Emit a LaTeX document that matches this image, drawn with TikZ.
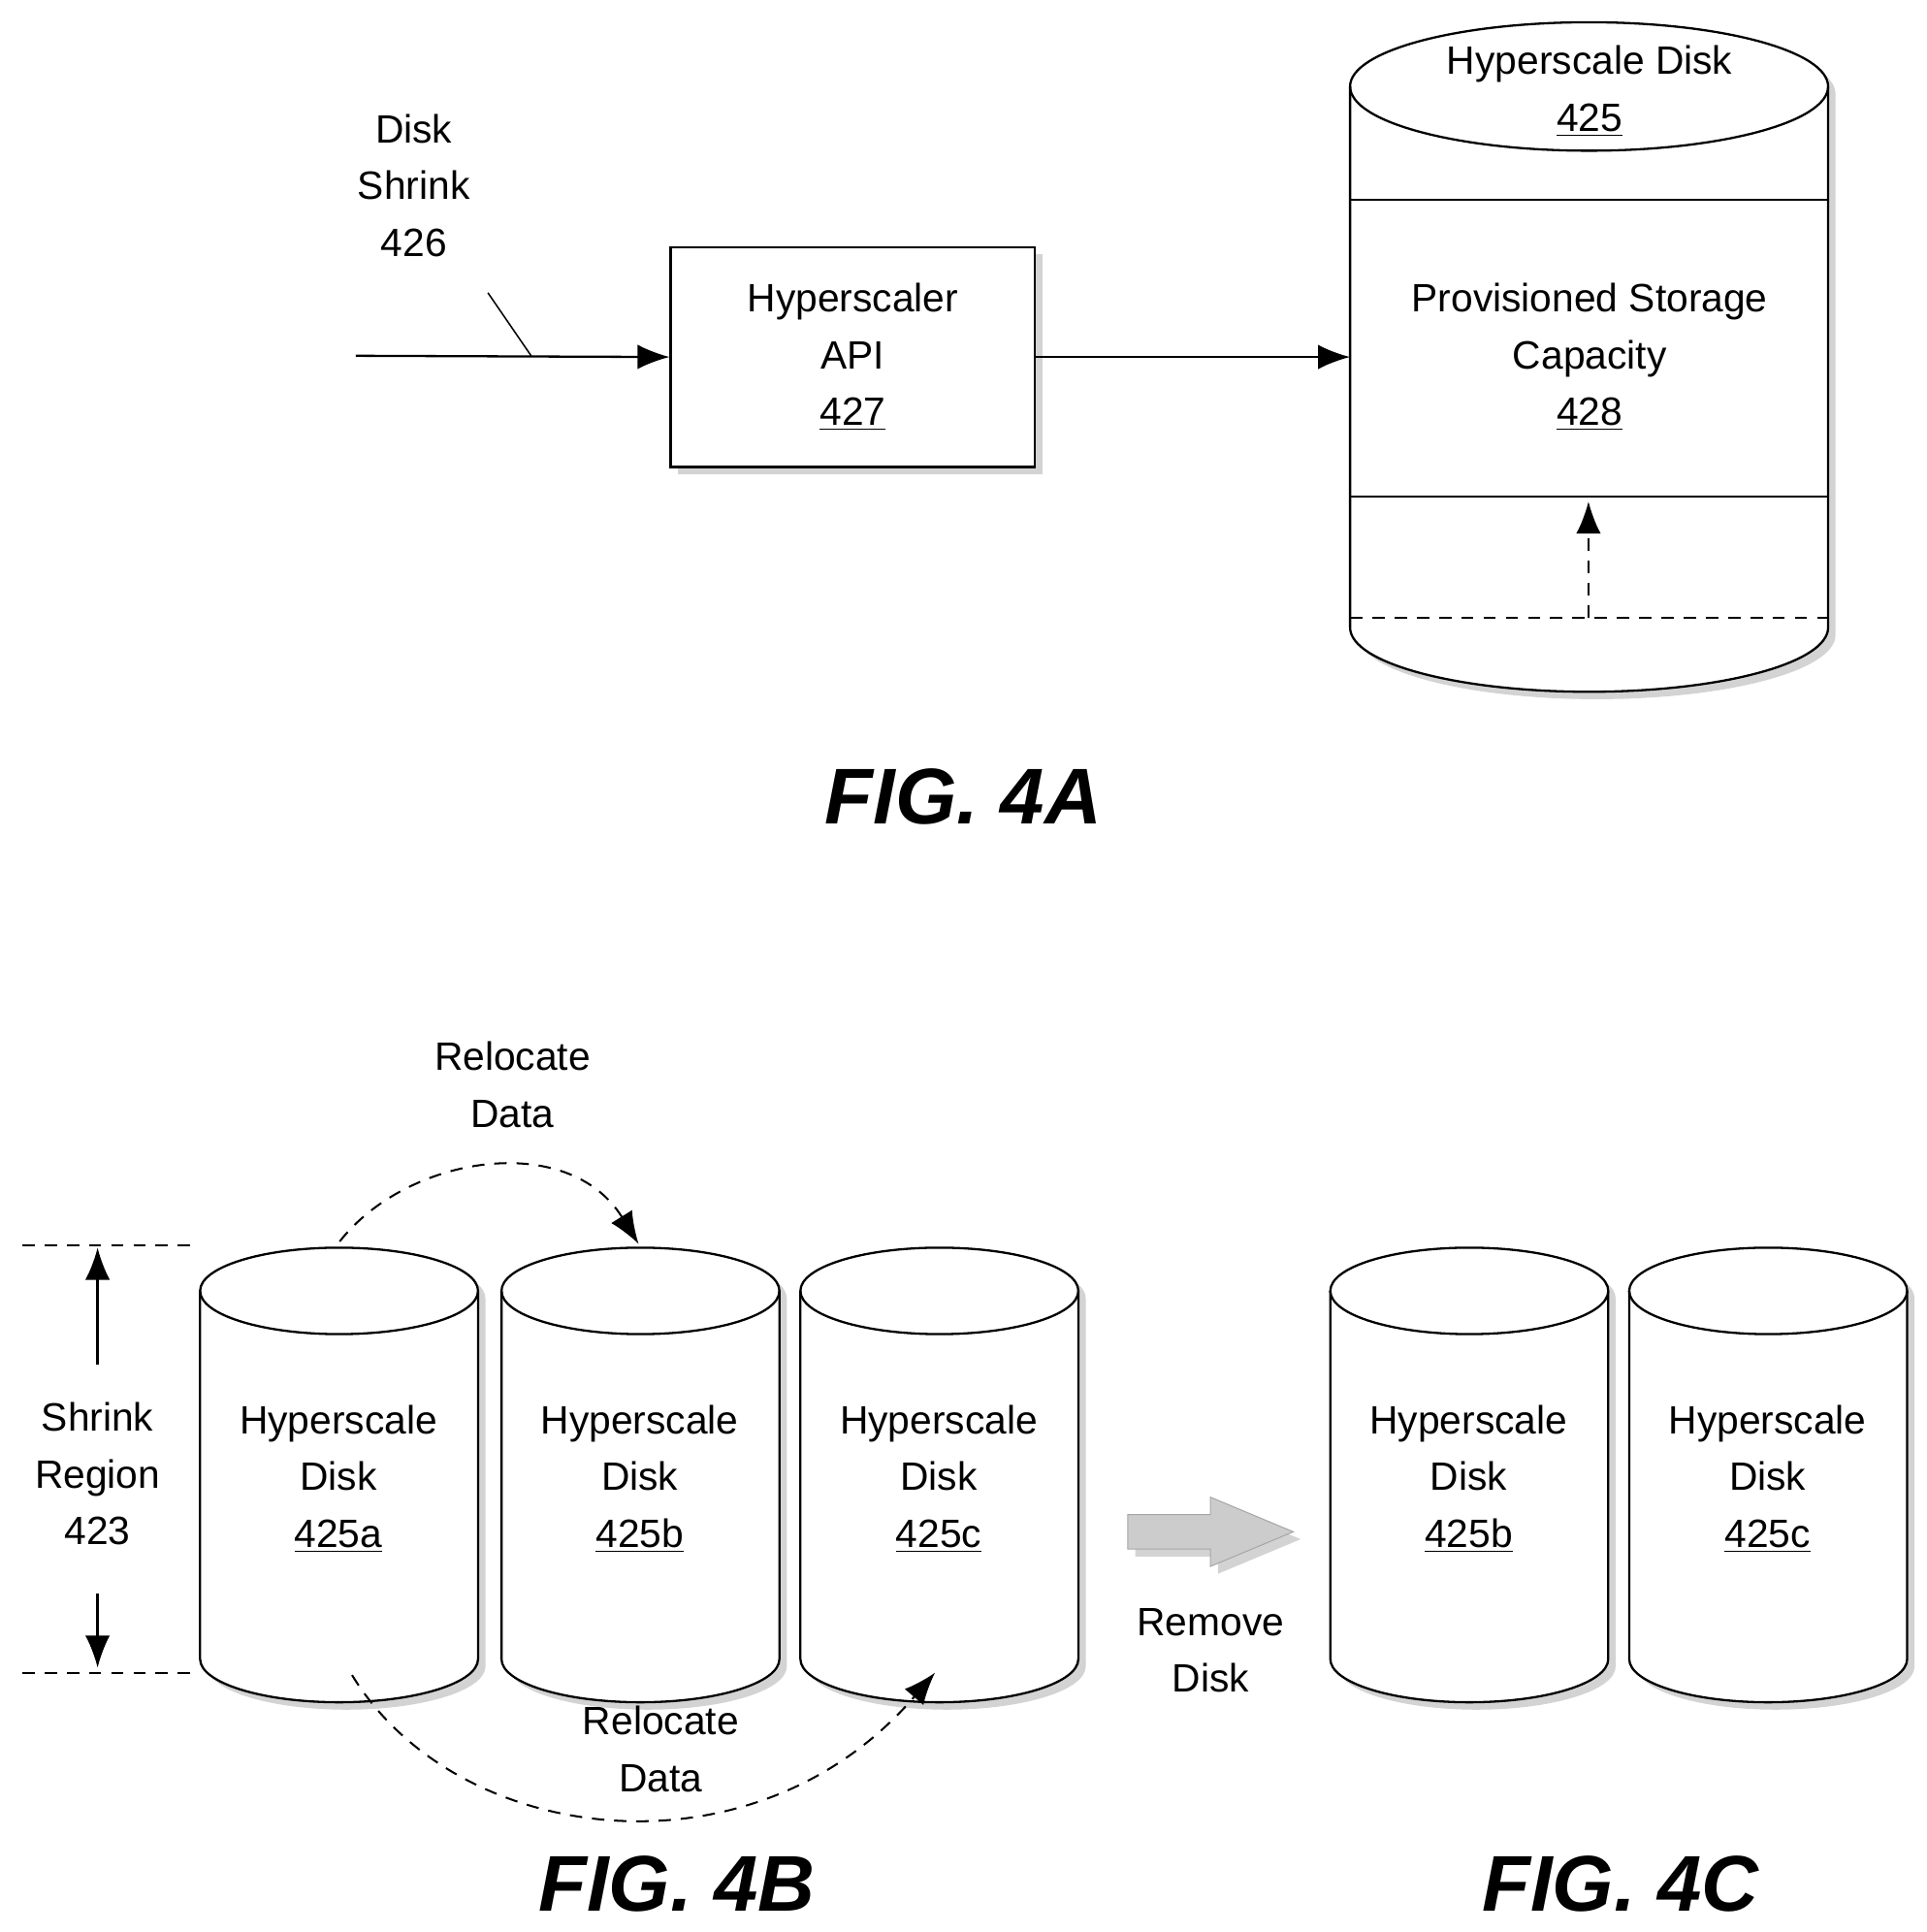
\documentclass[tikz,border=0pt]{standalone}
\usepackage{fontspec}
\setmainfont{Liberation Sans}
\usetikzlibrary{shadows,arrows.meta}
\tikzset{
  lbl/.style={align=center,font=\fontsize{16bp}{23bp}\selectfont,inner sep=0pt},
  fig/.style={font=\fontsize{32bp}{36bp}\selectfont\bfseries\itshape,inner sep=0pt},
  shade/.style={drop shadow={opacity=0.35,shadow xshift=3bp,shadow yshift=-3bp}},
  dsh/.style={dashed,dash pattern=on 5bp off 4bp,line width=0.8bp},
}
% disk: centre x, top ellipse y, bottom ellipse y, rx (px), rx (bp), ry (bp)
\newcommand\drawdisk[6]{%
  \draw[line width=0.9bp,fill=white,shade] (#1-#4,#2) -- (#1-#4,#3)
    arc[start angle=180,end angle=360,x radius=#5bp,y radius=#6bp]
    -- (#1+#4,#2) arc[start angle=0,end angle=180,x radius=#5bp,y radius=#6bp] -- cycle;
  \draw[line width=0.9bp] (#1-#4,#2) arc[start angle=180,end angle=360,x radius=#5bp,y radius=#6bp];
}
\begin{document}
\begin{tikzpicture}[x=0.5bp,y=-0.5bp,>={Latex[length=13bp,width=10bp]}]
\useasboundingbox (0,0) rectangle (1560,1564);
%% FIG 4A
\node[lbl] (shrink) at (335,150) {Disk\\Shrink\\426};
\coordinate (in) at (288,288);
\node[draw,line width=0.9bp,fill=white,shade,minimum width=147.5bp,minimum height=89bp,lbl] (api) at (690.5,289) {Hyperscaler\\API\\\underline{427}};
\draw[line width=0.9bp,->] (in) -- (api.west);
\draw[line width=0.6bp] (395,237) -- (430,288);
\drawdisk{1286.5}{70}{508}{193.5}{96.75}{26}
\coordinate (d425) at (1093,289);
\draw[line width=0.9bp,->] (api.east) -- (d425);
\draw[line width=0.9bp] (1093,162) -- (1480,162);
\draw[line width=0.9bp] (1093,402) -- (1480,402);
\draw[dsh] (1093,500) -- (1480,500);
\coordinate (lvl) at (1286,500);
\coordinate (cap) at (1286,406);
\draw[dsh,->] (lvl) -- (cap);
\node[lbl] (t425) at (1287,74) {Hyperscale Disk\\\underline{425}};
\node[lbl] (t428) at (1287,289) {Provisioned Storage\\Capacity\\\underline{428}};
\node[fig] (f4a) at (780,645) {FIG. 4A};
%% FIG 4B
\drawdisk{274.5}{1045}{1343}{112.5}{56.25}{17.5}
\drawdisk{518.5}{1045}{1343}{112.5}{56.25}{17.5}
\drawdisk{760.5}{1045}{1343}{112.5}{56.25}{17.5}
\node[lbl] (da) at (274,1197) {Hyperscale\\Disk\\\underline{425a}};
\node[lbl] (db) at (518,1197) {Hyperscale\\Disk\\\underline{425b}};
\node[lbl] (dc) at (760,1197) {Hyperscale\\Disk\\\underline{425c}};
\draw[dsh] (18,1008) -- (162,1008);
\draw[dsh] (18,1354) -- (162,1354);
\node[lbl] (region) at (79,1193) {Shrink\\Region\\423};
\coordinate (rtop) at (79,1010);
\coordinate (rbot) at (79,1350);
\draw[line width=0.9bp,->] (79,1105) -- (rtop);
\draw[line width=0.9bp,->] (79,1290) -- (rbot);
\coordinate (a1) at (275,1005);
\coordinate (b1) at (517,1007);
\draw[dsh,->] (a1) .. controls (330,935) and (460,915) .. (b1);
\node[lbl] (rel1) at (415,878) {Relocate\\Data};
\coordinate (a2) at (285,1356);
\coordinate (c2) at (757,1354);
\draw[dsh,->] (a2) .. controls (370,1495) and (610,1525) .. (c2);
\node[lbl] (rel2) at (535,1416) {Relocate\\Data};
\node[fig] (f4b) at (548,1525) {FIG. 4B};
%% FIG 4C
\draw[draw=gray!70,fill=gray!40,shade] (913,1226) -- (980,1226) -- (980,1212) -- (1047,1240) -- (980,1268) -- (980,1254) -- (913,1254) -- cycle;
\node[lbl] (remove) at (980,1336) {Remove\\Disk};
\drawdisk{1189.5}{1045}{1343}{112.5}{56.25}{17.5}
\drawdisk{1431.5}{1045}{1343}{112.5}{56.25}{17.5}
\node[lbl] (db2) at (1189,1197) {Hyperscale\\Disk\\\underline{425b}};
\node[lbl] (dc2) at (1431,1197) {Hyperscale\\Disk\\\underline{425c}};
\node[fig] (f4c) at (1312,1525) {FIG. 4C};
\end{tikzpicture}
\end{document}
